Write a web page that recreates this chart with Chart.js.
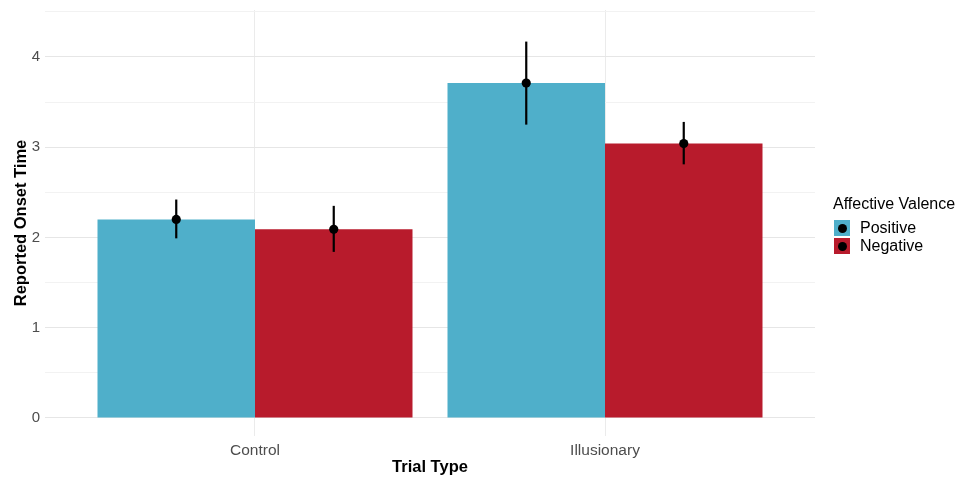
<!DOCTYPE html>
<html>
<head>
<meta charset="utf-8">
<script src="https://cdn.jsdelivr.net/npm/chart.js@4"></script>
<style>
  html, body { margin: 0; padding: 0; background: #fff; }
  #wrap { position: relative; width: 965px; height: 479px; }
  #legend { position: absolute; left: 833px; top: 194px; font-family: "Liberation Sans", Arial, sans-serif; color: #000; }
  #legend .title { font-size: 16px; line-height: 19px; margin-bottom: 6px; }
  #legend .row { display: flex; align-items: center; height: 18px; font-size: 16px; }
  #legend .key { position: relative; width: 16px; height: 16px; margin-left: 1px; margin-right: 10px; }
  #legend .key::after { content: ""; position: absolute; left: 3.5px; top: 3.5px; width: 9px; height: 9px; border-radius: 50%; background: #000; }
</style>
</head>
<body>
<div id="wrap">
  <canvas id="chart" width="965" height="479"></canvas>
  <div id="legend"></div>
</div>
<script>
// ===== Datos =====
const categories = ['Control', 'Illusionary'];
const seriesNames = ['Positive', 'Negative'];
const seriesColors = ['#4fafca', '#b81b2c'];

const positiveMeans = [2.20, 3.71];
const negativeMeans = [2.09, 3.04];
const positiveLower = [1.99, 3.25];
const positiveUpper = [2.42, 4.17];
const negativeLower = [1.84, 2.81];
const negativeUpper = [2.35, 3.28];

const yTicks = [0, 1, 2, 3, 4];
const yMinorTicks = [0.5, 1.5, 2.5, 3.5, 4.5];

const fontFamily = '"Liberation Sans", Arial, sans-serif';

// barras de error + puntos
const errorBarsPlugin = {
    id: 'errorBars',
    afterDatasetsDraw(chart) {
        const ctx = chart.ctx;
        const y = chart.scales.y;
        const bounds = [
            { lower: positiveLower, upper: positiveUpper, means: positiveMeans },
            { lower: negativeLower, upper: negativeUpper, means: negativeMeans }
        ];
        ctx.save();
        bounds.forEach((b, d) => {
            const meta = chart.getDatasetMeta(d);
            meta.data.forEach((bar, i) => {
                ctx.strokeStyle = '#000';
                ctx.lineWidth = 2.2;
                ctx.beginPath();
                ctx.moveTo(bar.x, y.getPixelForValue(b.lower[i]));
                ctx.lineTo(bar.x, y.getPixelForValue(b.upper[i]));
                ctx.stroke();
                ctx.fillStyle = '#000';
                ctx.beginPath();
                ctx.arc(bar.x, y.getPixelForValue(b.means[i]), 4.6, 0, Math.PI * 2);
                ctx.fill();
            });
        });
        ctx.restore();
    }
};

const meansBySeries = [positiveMeans, negativeMeans];

new Chart(document.getElementById('chart').getContext('2d'), {
    type: 'bar',
    data: {
        datasets: seriesNames.map((name, d) => ({
            label: name,
            data: meansBySeries[d].map((v, i) => ({ x: i + 1, y: v })),
            backgroundColor: seriesColors[d],
            borderWidth: 0,
            categoryPercentage: 0.9,
            barPercentage: 1.0
        }))
    },
    options: {
        responsive: false,
        animation: false,
        layout: { padding: { left: 8, right: 150, top: 10, bottom: 0 } },
        plugins: {
            legend: { display: false },
            tooltip: { enabled: false }
        },
        scales: {
            x: {
                type: 'linear',
                min: 0.4,
                max: 2.6,
                offset: false,
                afterBuildTicks: scale => {
                    scale.ticks = categories.map((c, i) => ({ value: i + 1 }));
                },
                afterFit: scale => { scale.height = 43; scale.paddingLeft = 0; scale.paddingRight = 0; },
                ticks: {
                    padding: 5,
                    color: '#4d4d4d',
                    font: { family: fontFamily, size: 15.5 },
                    callback: value => categories[value - 1]
                },
                grid: { color: '#ebebeb', lineWidth: 1, drawTicks: false, tickLength: 0, offset: false },
                border: { display: false },
                title: {
                    display: true,
                    text: 'Trial Type',
                    color: '#000',
                    font: { family: fontFamily, size: 16.5, weight: 'bold' },
                    padding: { top: 2, bottom: 2 }
                }
            },
            y: {
                min: -0.2,
                max: 4.52,
                afterBuildTicks: scale => {
                    scale.ticks = yTicks.concat(yMinorTicks).sort((a, b) => a - b).map(v => ({ value: v }));
                },
                afterFit: scale => { scale.width = 37; scale.paddingTop = 0; scale.paddingBottom = 0; },
                ticks: {
                    padding: 5,
                    color: '#4d4d4d',
                    font: { family: fontFamily, size: 15 },
                    callback: value => (yTicks.includes(value) ? value : '')
                },
                grid: {
                    color: ctx => (yTicks.includes(ctx.tick.value) ? '#e6e6e6' : '#f2f2f2'),
                    lineWidth: 1,
                    drawTicks: false,
                    tickLength: 0
                },
                border: { display: false },
                title: {
                    display: true,
                    text: 'Reported Onset Time',
                    color: '#000',
                    font: { family: fontFamily, size: 16.5, weight: 'bold' },
                    padding: { top: 4, bottom: 4 }
                }
            }
        }
    },
    plugins: [errorBarsPlugin]
});

// leyenda HTML
const legend = document.getElementById('legend');
legend.innerHTML = '<div class="title">Affective Valence</div>' +
    seriesNames.map((name, d) =>
        `<div class="row"><span class="key" style="background:${seriesColors[d]}"></span>${name}</div>`
    ).join('');
</script>
</body>
</html>
